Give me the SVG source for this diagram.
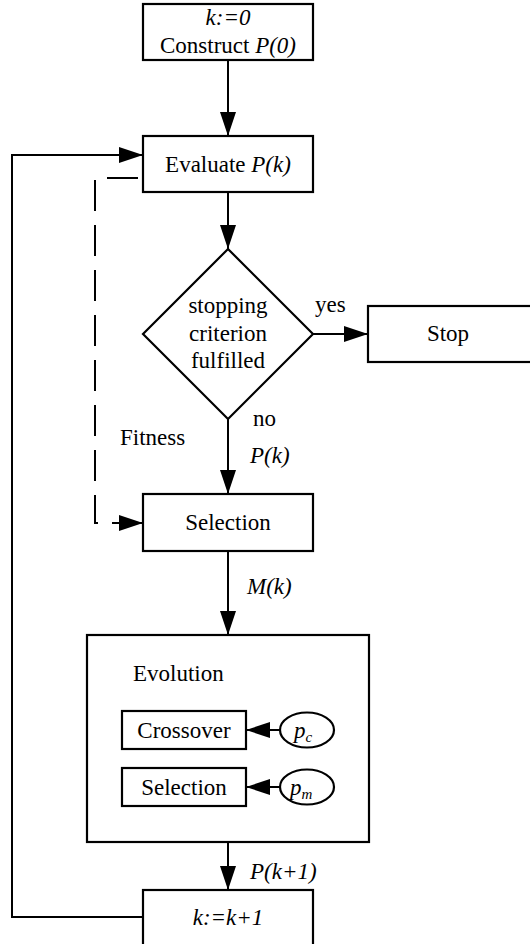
<svg xmlns="http://www.w3.org/2000/svg" width="530" height="944" viewBox="0 0 530 944" font-family="'Liberation Serif', 'DejaVu Serif', serif" font-size="23">
<defs>
<style>
.box{fill:#fff;stroke:#000;stroke-width:2.2}
.ln{fill:none;stroke:#000;stroke-width:2}
.dash{fill:none;stroke:#000;stroke-width:2;stroke-dasharray:31 14}
.c{text-anchor:middle}
.i{font-style:italic}
.sub{font-size:15px;font-style:italic}
</style>
<marker id="ah" markerUnits="userSpaceOnUse" markerWidth="24" markerHeight="16" refX="24" refY="8" orient="auto">
<path d="M0,0 L24,8 L0,16 z" fill="#000"/>
</marker>
</defs>
<g id="evolution">
<rect class="box" x="87" y="635" width="282" height="207"/>
<text x="133" y="681">Evolution</text>
</g>
<g id="connectors">
<line class="ln" x1="228" y1="60" x2="228" y2="136" marker-end="url(#ah)"/>
<line class="ln" x1="228" y1="192" x2="228" y2="249" marker-end="url(#ah)"/>
<line class="ln" x1="313" y1="334" x2="368" y2="334" marker-end="url(#ah)"/>
<line class="ln" x1="228" y1="419" x2="228" y2="494" marker-end="url(#ah)"/>
<line class="ln" x1="228" y1="551" x2="228" y2="635" marker-end="url(#ah)"/>
<line class="ln" x1="228" y1="842" x2="228" y2="890" marker-end="url(#ah)"/>
<polyline class="ln" points="143,917 12,917 12,155 143,155" marker-end="url(#ah)"/>
<polyline class="dash" points="138,178 95,178 95,523 120,523"/>
<line class="ln" x1="118" y1="523" x2="143" y2="523" marker-end="url(#ah)"/>
<line class="ln" x1="280" y1="730" x2="246" y2="730" marker-end="url(#ah)"/>
<line class="ln" x1="280" y1="787" x2="246" y2="787" marker-end="url(#ah)"/>
</g>
<g id="labels">
<text x="315" y="312">yes</text>
<text x="253" y="426">no</text>
<text x="120" y="445">Fitness</text>
<text class="i" x="250" y="463">P(k)</text>
<text class="i" x="247" y="594">M(k)</text>
<text class="i" x="250" y="879">P(k+1)</text>
</g>
<g id="start">
<rect class="box" x="143" y="4" width="170" height="56"/>
<text class="c i" x="228" y="25">k:=0</text>
<text class="c" x="228" y="53">Construct <tspan class="i">P(0)</tspan></text>
</g>
<g id="evaluate">
<rect class="box" x="143" y="136" width="170" height="56"/>
<text class="c" x="228" y="172">Evaluate <tspan class="i">P(k)</tspan></text>
</g>
<g id="decision">
<polygon class="box" points="228,249 313,334 228,419 143,334"/>
<text class="c" x="228" y="313">stopping</text>
<text class="c" x="228" y="341">criterion</text>
<text class="c" x="228" y="368">fulfilled</text>
</g>
<g id="stop">
<rect class="box" x="368" y="306" width="170" height="56"/>
<text class="c" x="448" y="341">Stop</text>
</g>
<g id="selection">
<rect class="box" x="143" y="494" width="170" height="57"/>
<text class="c" x="228" y="530">Selection</text>
</g>
<g id="crossover">
<rect class="box" x="122" y="711" width="124" height="38"/>
<text class="c" x="184" y="738">Crossover</text>
</g>
<g id="mutation">
<rect class="box" x="122" y="768" width="124" height="38"/>
<text class="c" x="184" y="795">Selection</text>
</g>
<g id="pc">
<ellipse class="box" cx="307" cy="730" rx="27" ry="17.5"/>
<text class="i" x="294" y="738">p<tspan class="sub" dy="4">c</tspan></text>
</g>
<g id="pm">
<ellipse class="box" cx="307" cy="787" rx="27" ry="17.5"/>
<text class="i" x="290" y="795">p<tspan class="sub" dy="4">m</tspan></text>
</g>
<g id="increment">
<rect class="box" x="143" y="890" width="170" height="60"/>
<text class="c i" x="228" y="925">k:=k+1</text>
</g>
</svg>
